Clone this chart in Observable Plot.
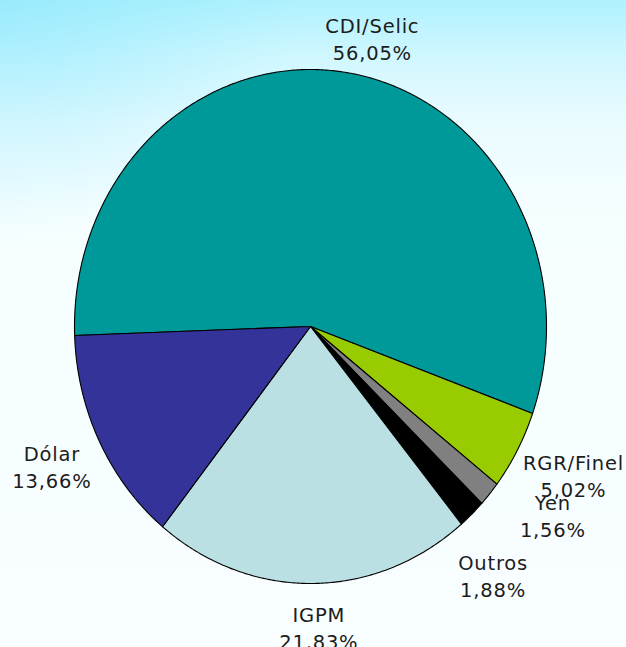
<!DOCTYPE html>
<html><head><meta charset="utf-8">
<script src="https://cdn.jsdelivr.net/npm/d3@7"></script>
<script src="https://cdn.jsdelivr.net/npm/@observablehq/plot@0.6"></script>
<style>
html,body{margin:0;padding:0;}
body{width:626px;height:647px;overflow:hidden;
background:
 radial-gradient(ellipse 300px 240px at 0 0, rgba(135,230,252,0.55), rgba(135,230,252,0) 100%),
 linear-gradient(to bottom, #aef1fd 0px, #cff7ff 55px, #e9fbff 120px, #f5feff 210px, #f9feff 647px);}
#chart svg{display:block;}
</style></head><body><div id="chart"></div>
<script>
// ---- data ----
const categories = ["CDI/Selic", "RGR/Finel", "Yen", "Outros", "IGPM", "Dólar"];
const shares = [56.05, 5.02, 1.56, 1.88, 21.83, 13.66];

// ---- styles / layout ----
const palette = ["#009999", "#99CC00", "#808080", "#000000", "#BBE0E3", "#333399"];
const startDeg = -92;           // first slice starts slightly above 9 o'clock
const fontSize = 19.5;
const letterSpacing = 0.8;
const labelGap = 14;
const labelNudge = [[16, 1], [0, 7], [28, -3], [-12, 34], [6, 7], [0, 8]];

const fmt = v => v.toFixed(2).replace(".", ",") + "%";
const total = d3.sum(shares);
let acc = 0;
const slices = categories.map((name, i) => {
  const a0 = startDeg + acc / total * 360;
  acc += shares[i];
  const a1 = startDeg + acc / total * 360;
  return {name, value: shares[i], a0, a1, mid: (a0 + a1) / 2, i};
});

const pts = [];
for (const s of slices) {
  pts.push({name: s.name, x: 0, y: 0});
  const n = Math.max(2, Math.ceil((s.a1 - s.a0) / 0.5));
  for (let k = 0; k <= n; k++) {
    const a = (s.a0 + (s.a1 - s.a0) * k / n) * Math.PI / 180;
    pts.push({name: s.name, x: Math.sin(a), y: Math.cos(a)});
  }
  pts.push({name: s.name, x: 0, y: 0});
}

const ctx = document.createElement("canvas").getContext("2d");
ctx.font = `${fontSize}px "DejaVu Sans"`;
const tw = t => ctx.measureText(t).width + letterSpacing * (t.length - 1);

const textMarks = slices.map(s => {
  const a = s.mid * Math.PI / 180;
  const lines = [s.name, fmt(s.value)];
  const w = d3.max(lines, tw);
  const h = 45;
  const dx = (w / 2 + labelGap) * Math.sin(a) + labelNudge[s.i][0];
  const dy = -(h / 2 + labelGap) * Math.cos(a) + labelNudge[s.i][1];
  return Plot.text([s], {
    x: d => Math.sin(d.mid * Math.PI / 180),
    y: d => Math.cos(d.mid * Math.PI / 180),
    text: d => d.name + "\n" + fmt(d.value),
    dx, dy,
    textAnchor: "middle",
    lineAnchor: "middle",
    lineHeight: 1.385,
    fontSize,
    fill: "#1c1c1c"
  });
});

const chart = Plot.plot({
  width: 626,
  height: 647,
  marginLeft: 74,
  marginRight: 80,
  marginTop: 69,
  marginBottom: 64,
  x: {domain: [-1, 1], axis: null},
  y: {domain: [-1, 1], axis: null},
  color: {domain: categories, range: palette},
  style: {background: "transparent", fontFamily: "DejaVu Sans", overflow: "visible", letterSpacing: letterSpacing + "px"},
  marks: [
    Plot.line(pts, {x: "x", y: "y", z: "name", fill: "name", stroke: "#000", strokeWidth: 1.1, strokeLinejoin: "round", curve: "linear"}),
    ...textMarks
  ]
});
document.getElementById("chart").appendChild(chart);
</script>
</body></html>
